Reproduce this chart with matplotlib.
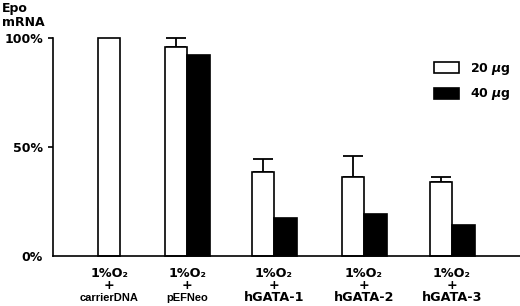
import numpy as np
import matplotlib
matplotlib.use('Agg')
import matplotlib.pyplot as plt
import matplotlib.transforms as mtransforms
from matplotlib import font_manager

plt.rcParams['font.family'] = ['DejaVu Sans']
plt.rcParams['font.weight'] = 'bold'

# data
groups = ['carrierDNA', 'pEFNeo', 'hGATA-1', 'hGATA-2', 'hGATA-3']
condition = '1%O\u2082'
white_vals = [100, 95.9, 38.4, 36.1, 33.9]
white_err = [0, 4.1, 6.2, 9.9, 2.3]
black_vals = [np.nan, 92.2, 17.4, 19.4, 14.1]
series_labels = ['20 $\\mu$g', '40 $\\mu$g']
ytick_vals = [0, 50, 100]
ytick_labels = ['0%', '50%', '100%']

# layout (pixel-like x units)
pos = np.array([109, 187, 274, 364, 452])
w = 22.5

try:
    font_manager.findfont(font_manager.FontProperties(family='Liberation Sans Narrow'),
                          fallback_to_default=False)
    narrow = {'family': 'Liberation Sans Narrow', 'size': 9.3}
except Exception:
    narrow = {'family': 'Liberation Sans', 'size': 8.0}

fig = plt.figure(figsize=(5.2, 3.06), dpi=100)
ax = fig.add_axes([53 / 520, 50 / 306, 1 - 53 / 520, (256 - 38) / 306])

black = np.array(black_vals)
has_black = ~np.isnan(black)
wx = np.where(has_black, pos - w / 2, pos)
bx = pos[has_black] + w / 2
ax.bar(wx, white_vals, width=w, color='white', edgecolor='black', linewidth=1.2,
       label=series_labels[0], zorder=2, clip_on=False)
ax.bar(bx, black[has_black], width=w, color='black', edgecolor='black',
       linewidth=1.2, label=series_labels[1], zorder=2, clip_on=False)
err = np.array(white_err)
m = err > 0
ax.errorbar(wx[m], np.array(white_vals)[m], yerr=[np.zeros(m.sum()), err[m]],
            fmt='none', ecolor='black', elinewidth=1.3, capsize=7, capthick=1.3,
            clip_on=False, zorder=1)

ax.set_xlim(53, 520)
ax.set_ylim(0, 100)
ax.spines['top'].set_visible(False)
ax.spines['right'].set_visible(False)
ax.spines['left'].set_linewidth(1.2)
ax.spines['bottom'].set_linewidth(1.2)

ax.set_yticks(ytick_vals, ytick_labels, fontsize=9, fontweight='bold')
ax.tick_params(axis='y', length=3.6, width=1.2, pad=3.6)
ax.yaxis.get_major_ticks()[0].tick1line.set_visible(False)
ax.set_xticks([])

# category labels, three lines each
tr = mtransforms.blended_transform_factory(ax.transData, fig.transFigure)
for i, (p, g) in enumerate(zip(pos, groups)):
    ax.text(p, 1 - 277 / 306, condition, transform=tr, ha='center', va='baseline',
            fontsize=9.2, fontweight='bold', clip_on=False)
    ax.text(p, 1 - 289 / 306, '+', transform=tr, ha='center', va='baseline',
            fontsize=9.2, fontweight='bold', clip_on=False)
    if i < 2:
        ax.text(p, 1 - 301 / 306, g, transform=tr, ha='center', va='baseline',
                fontweight='bold', clip_on=False, **narrow)
    else:
        ax.text(p, 1 - 301 / 306, g, transform=tr, ha='center', va='baseline',
                fontsize=9.2, fontweight='bold', clip_on=False)

fig.text(2 / 520, 1 - 2 / 306, 'Epo\nmRNA', ha='left', va='top', fontsize=9,
         fontweight='bold', linespacing=1.05)

leg = ax.legend(loc='upper left', bbox_to_anchor=(434 / 520, 1 - 61 / 306),
                bbox_transform=fig.transFigure, frameon=False, fontsize=9,
                handlelength=2.0, handleheight=1.0, handletextpad=0.9,
                labelspacing=0.75, borderaxespad=0, borderpad=0)
for t in leg.get_texts():
    t.set_fontweight('bold')

fig.savefig('out.png', dpi=100)
